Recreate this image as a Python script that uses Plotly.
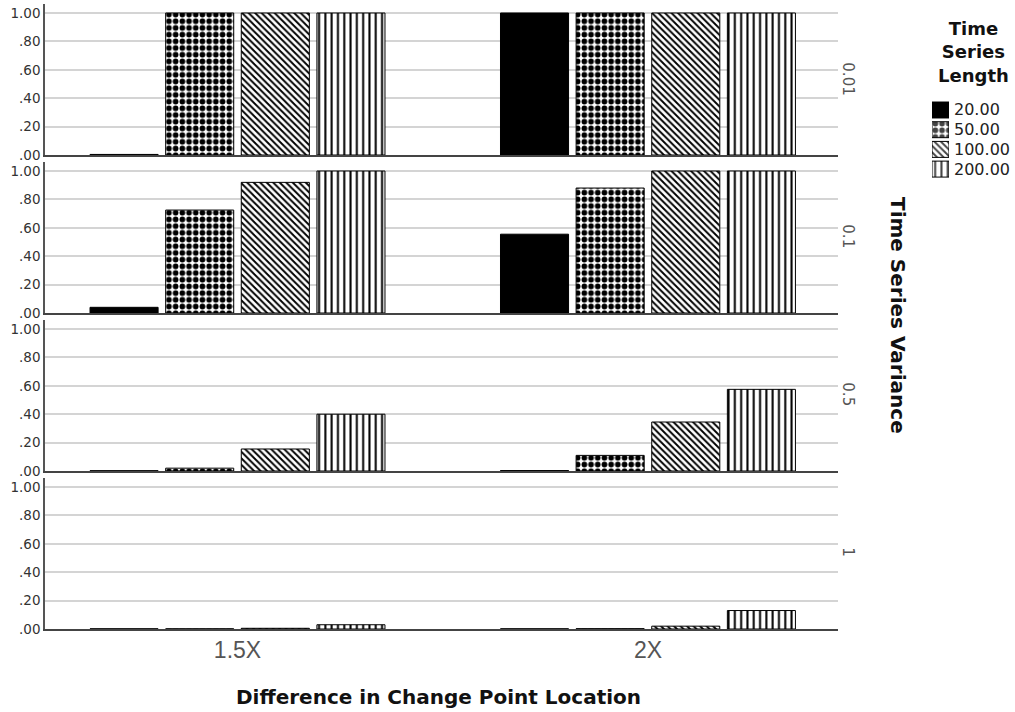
import plotly.graph_objects as go

categories = ["1.5X", "2X"]
lengths = ["20.00", "50.00", "100.00", "200.00"]
variances = ["0.01", "0.1", "0.5", "1"]

# values[variance][length] -> [1.5X, 2X]
v001 = {"20.00": [0.004, 1.0], "50.00": [1.0, 1.0], "100.00": [1.0, 1.0], "200.00": [1.0, 1.0]}
v01 = {"20.00": [0.04, 0.555], "50.00": [0.725, 0.88], "100.00": [0.92, 1.0], "200.00": [1.0, 1.0]}
v05 = {"20.00": [0.002, 0.003], "50.00": [0.02, 0.11], "100.00": [0.155, 0.345], "200.00": [0.40, 0.575]}
v1 = {"20.00": [0.001, 0.001], "50.00": [0.001, 0.002], "100.00": [0.005, 0.02], "200.00": [0.03, 0.13]}
panel_values = [v001, v01, v05, v1]

y_ticks = [0, 0.2, 0.4, 0.6, 0.8, 1.0]
y_ticktext = [".00", ".20", ".40", ".60", ".80", "1.00"]

pat_shape = {"20.00": "", "50.00": ".", "100.00": "\\", "200.00": "|"}
pat_size = {"20.00": 8, "50.00": 6.7, "100.00": 4.6, "200.00": 6.3}
pat_solid = {"20.00": 0.5, "50.00": 0.55, "100.00": 0.42, "200.00": 0.32}
fill_col = {"20.00": "black", "50.00": "white", "100.00": "white", "200.00": "white"}

ARIAL = "Arial, Liberation Sans, Helvetica, sans-serif"
DEJA = "DejaVu Sans, Verdana, sans-serif"
W, H = 1015, 712


def px(xp):
    return xp / W


def py(yp):
    return (H - yp) / H


left_px, right_px = 45, 838
zero_px = [155, 313, 471, 629]
unit_px = 142.0
y_max = 1.06

fig = go.Figure()


def pattern_for(L):
    if pat_shape[L]:
        return dict(shape=pat_shape[L], size=pat_size[L], solidity=pat_solid[L],
                    fgcolor="black", bgcolor="white", fgopacity=1)
    return dict(shape="")


for i, vals in enumerate(panel_values):
    suf = "" if i == 0 else str(i + 1)
    for L in lengths:
        fig.add_trace(go.Bar(
            x=categories, y=vals[L], name=L, showlegend=False,
            xaxis="x" + suf, yaxis="y" + suf,
            marker=dict(color=fill_col[L], pattern=pattern_for(L),
                        line=dict(color="black", width=1)),
        ))
    z = zero_px[i]
    fig.layout["yaxis" + suf] = dict(
        domain=[py(z), py(z - y_max * unit_px)], range=[0, y_max], anchor="x" + suf,
        tickvals=y_ticks, ticktext=y_ticktext,
        showgrid=True, gridcolor="#d4d4d4", gridwidth=1.5,
        showline=True, linecolor="#555", linewidth=1.5,
        ticks="", zeroline=False, automargin=False,
        tickfont=dict(family=DEJA, size=13.5, color="#333"),
    )
    fig.layout["xaxis" + suf] = dict(
        domain=[px(left_px), px(right_px)], anchor="y" + suf,
        range=[-0.469, 1.463], type="category",
        showline=True, linecolor="#444", linewidth=1.5, showgrid=False,
        ticks="", showticklabels=(i == 3), automargin=False,
        tickfont=dict(family=ARIAL, size=23, color="#555"),
    )
    fig.add_annotation(
        x=px(848), xref="paper", y=py(z - 0.54 * unit_px), yref="paper",
        text=variances[i], showarrow=False, textangle=90,
        font=dict(family=DEJA, size=15, color="#555"), xanchor="center", yanchor="middle",
    )

# legend swatches drawn as bars in a small extra subplot
leg_top, leg_step = 110, 19.7
fig.add_trace(go.Bar(
    x=[1] * len(lengths), y=lengths, orientation="h", width=0.81, showlegend=False,
    xaxis="x5", yaxis="y5", hoverinfo="skip",
    marker=dict(
        color=[fill_col[L] for L in lengths],
        pattern=dict(shape=[pat_shape[L] for L in lengths],
                     size=[pat_size[L] for L in lengths],
                     solidity=[pat_solid[L] for L in lengths],
                     fgcolor="black", bgcolor="white", fgopacity=1),
        line=dict(color="black", width=1),
    ),
))
fig.layout.xaxis5 = dict(domain=[px(932), px(949)], range=[0, 1], visible=False,
                         anchor="y5", fixedrange=True)
fig.layout.yaxis5 = dict(domain=[py(leg_top + 3.5 * leg_step), py(leg_top - 0.5 * leg_step)],
                         range=[3.5, -0.5], visible=False, anchor="x5",
                         type="category", fixedrange=True)
for k, L in enumerate(lengths):
    fig.add_annotation(
        x=px(952), xref="paper", y=py(leg_top + k * leg_step), yref="paper",
        text=L, showarrow=False, xanchor="left", yanchor="middle",
        font=dict(family=DEJA, size=16, color="#222"),
    )

fig.add_annotation(
    x=px(438), xref="paper", y=py(697), yref="paper",
    text="<b>Difference in Change Point Location</b>", showarrow=False,
    font=dict(family=DEJA, size=20, color="#111"), xanchor="center", yanchor="middle",
)
fig.add_annotation(
    x=px(898), xref="paper", y=py(315), yref="paper",
    text="<b>Time Series Variance</b>", showarrow=False, textangle=90,
    font=dict(family=DEJA, size=20, color="#111"), xanchor="center", yanchor="middle",
)
fig.add_annotation(
    x=px(973), xref="paper", y=py(16), yref="paper",
    text="<b>Time<br>Series<br>Length</b>", showarrow=False,
    font=dict(family=DEJA, size=18, color="#111"), xanchor="center", yanchor="top",
    align="center",
)

fig.update_layout(
    width=W, height=H,
    margin=dict(l=0, r=0, t=0, b=0, autoexpand=False),
    paper_bgcolor="white", plot_bgcolor="white",
    barmode="group", bargap=0.263, bargroupgap=0.1,
    showlegend=False,
)

fig.write_html("out.html", config={"displayModeBar": False},
               post_script="document.body.style.margin='0px';")
